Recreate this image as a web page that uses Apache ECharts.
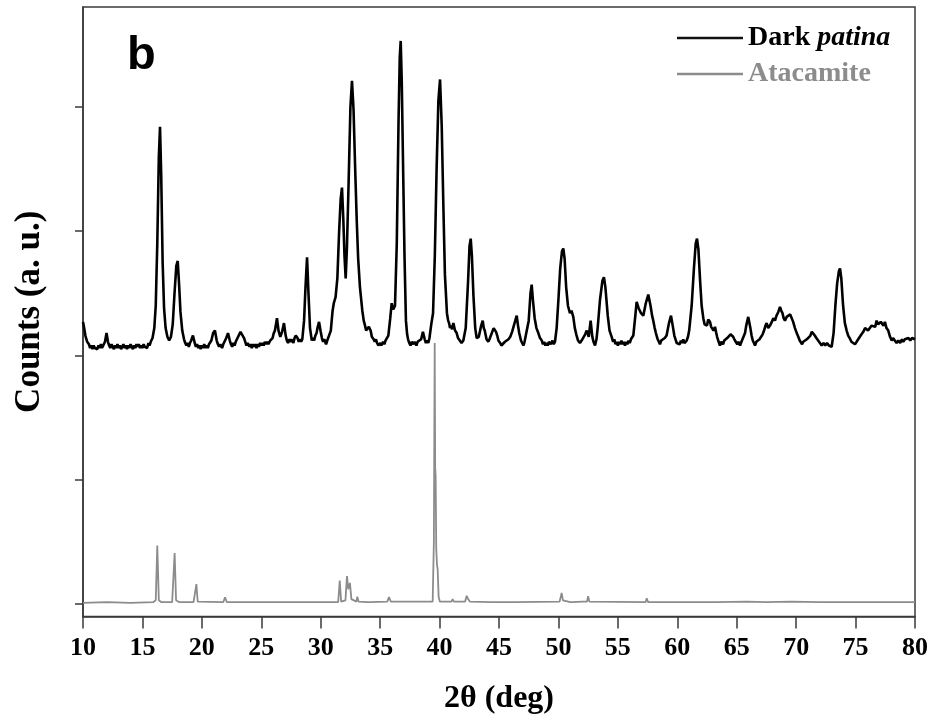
<!DOCTYPE html>
<html>
<head>
<meta charset="utf-8">
<script src="https://cdn.jsdelivr.net/npm/echarts@6/dist/echarts.min.js"></script>
<style>html,body{margin:0;padding:0;background:#fff;}#chart{width:935px;height:724px;}</style>
</head>
<body>
<div id="chart"></div>
<script>
// 2θ (deg), counts (a. u.)
const darkPatina = [[10.0,227],[10.1,222],[10.2,216],[10.35,211],[10.5,209],[10.6,206],[10.7,208],[10.8,205],[10.9,208],[11.0,206],[11.1,207],[11.2,205],[11.3,208],[11.4,206],[11.5,209],[11.6,206],[11.7,208],[11.85,211],[11.98,218],[12.1,211],[12.2,208],[12.3,206],[12.4,209],[12.5,207],[12.6,205],[12.7,208],[12.8,206],[12.9,209],[13.0,206],[13.1,208],[13.2,205],[13.3,207],[13.4,209],[13.5,206],[13.6,208],[13.7,205],[13.8,208],[13.9,206],[14.0,209],[14.1,207],[14.2,205],[14.3,208],[14.4,206],[14.5,209],[14.6,207],[14.7,209],[14.8,206],[14.9,208],[15.0,206],[15.1,209],[15.2,207],[15.3,208],[15.4,206],[15.5,210],[15.6,208],[15.7,211],[15.85,214],[16.0,222],[16.12,240],[16.25,290],[16.38,360],[16.48,384],[16.58,345],[16.7,275],[16.82,238],[16.95,222],[17.1,215],[17.25,212],[17.4,215],[17.55,225],[17.7,250],[17.85,272],[17.97,276],[18.08,258],[18.2,235],[18.35,220],[18.5,213],[18.6,210],[18.7,208],[18.8,210],[18.9,207],[19.0,210],[19.1,212],[19.25,216],[19.4,210],[19.5,207],[19.6,209],[19.7,206],[19.8,208],[19.9,205],[20.0,208],[20.1,206],[20.2,209],[20.3,206],[20.4,208],[20.5,206],[20.6,209],[20.7,208],[20.8,212],[20.95,218],[21.1,220],[21.25,212],[21.35,209],[21.45,207],[21.55,209],[21.7,206],[21.8,209],[21.9,210],[22.05,214],[22.2,218],[22.35,212],[22.45,209],[22.55,207],[22.65,210],[22.75,208],[22.85,211],[22.95,212],[23.05,215],[23.15,216],[23.25,219],[23.38,220],[23.55,214],[23.65,211],[23.75,208],[23.85,210],[24.0,207],[24.1,209],[24.2,206],[24.3,209],[24.4,207],[24.5,209],[24.6,206],[24.7,209],[24.8,207],[24.9,210],[25.0,208],[25.1,210],[25.2,208],[25.3,211],[25.4,209],[25.5,211],[25.6,209],[25.75,212],[25.95,214],[26.05,218],[26.15,220],[26.32,230],[26.45,220],[26.6,215],[26.75,219],[26.91,226],[27.05,216],[27.15,212],[27.25,210],[27.35,213],[27.5,211],[27.6,213],[27.7,210],[27.8,214],[27.9,216],[28.05,214],[28.15,211],[28.25,213],[28.35,211],[28.45,213],[28.6,228],[28.72,255],[28.85,279],[28.97,250],[29.1,222],[29.25,212],[29.35,214],[29.45,212],[29.55,216],[29.65,218],[29.75,223],[29.86,227],[30.0,219],[30.1,214],[30.2,211],[30.3,213],[30.45,209],[30.55,212],[30.7,212],[30.85,220],[31.0,236],[31.1,242],[31.25,247],[31.4,262],[31.55,300],[31.68,326],[31.79,335],[31.9,310],[32.0,280],[32.1,262],[32.2,285],[32.35,340],[32.5,400],[32.63,421],[32.76,398],[32.9,350],[33.03,309],[33.15,278],[33.3,255],[33.5,236],[33.62,228],[33.73,224],[33.82,220],[33.9,219],[34.05,223],[34.2,220],[34.3,215],[34.45,213],[34.55,211],[34.65,213],[34.74,210],[34.85,208],[35.0,210],[35.1,208],[35.25,211],[35.35,209],[35.45,212],[35.55,213],[35.69,216],[35.85,230],[35.97,242],[36.1,237],[36.25,240],[36.4,290],[36.55,390],[36.65,440],[36.73,453],[36.82,420],[36.95,340],[37.05,280],[37.17,228],[37.27,217],[37.35,213],[37.45,210],[37.55,208],[37.65,211],[37.8,209],[37.9,211],[38.05,208],[38.15,211],[38.3,210],[38.45,213],[38.6,219],[38.75,213],[38.85,210],[38.95,212],[39.05,210],[39.15,214],[39.3,225],[39.45,234],[39.6,280],[39.75,350],[39.9,405],[40.04,422],[40.18,385],[40.32,320],[40.45,265],[40.62,234],[40.72,228],[40.8,226],[40.88,222],[40.95,224],[41.05,221],[41.16,226],[41.3,220],[41.44,218],[41.55,214],[41.7,213],[41.85,210],[42.0,212],[42.2,222],[42.4,260],[42.52,288],[42.62,294],[42.72,280],[42.85,248],[43.0,222],[43.12,214],[43.3,215],[43.5,224],[43.63,228],[43.72,222],[43.8,220],[43.95,213],[44.1,211],[44.2,213],[44.35,214],[44.55,222],[44.66,223],[44.75,219],[44.85,216],[44.95,212],[45.1,210],[45.2,208],[45.36,208],[45.5,211],[45.65,210],[45.8,213],[45.95,215],[46.1,219],[46.25,224],[46.49,232],[46.6,224],[46.7,218],[46.85,212],[47.05,208],[47.15,211],[47.3,212],[47.5,228],[47.65,250],[47.75,257],[47.85,245],[48.0,230],[48.15,222],[48.31,218],[48.45,214],[48.6,212],[48.7,209],[48.8,211],[48.9,208],[49.01,210],[49.1,208],[49.2,211],[49.35,209],[49.5,212],[49.6,209],[49.71,211],[49.85,222],[50.0,245],[50.15,270],[50.3,284],[50.41,286],[50.52,278],[50.65,255],[50.8,240],[50.97,234],[51.1,236],[51.25,231],[51.38,222],[51.5,217],[51.65,212],[51.81,210],[51.95,212],[52.1,213],[52.25,217],[52.38,220],[52.55,215],[52.71,228],[52.85,215],[52.95,211],[53.08,208],[53.2,213],[53.3,222],[53.5,245],[53.7,260],[53.83,263],[53.95,255],[54.15,232],[54.3,220],[54.48,215],[54.6,211],[54.7,213],[54.8,209],[54.9,211],[55.0,208],[55.1,211],[55.2,209],[55.3,212],[55.4,209],[55.5,211],[55.6,208],[55.7,211],[55.8,209],[55.9,212],[56.0,210],[56.1,213],[56.2,212],[56.3,216],[56.45,230],[56.58,243],[56.75,238],[56.85,236],[56.95,234],[57.05,235],[57.14,232],[57.35,242],[57.56,249],[57.75,240],[57.88,232],[57.98,228],[58.1,222],[58.2,218],[58.35,213],[58.45,211],[58.54,209],[58.65,212],[58.8,211],[58.95,214],[59.1,216],[59.3,226],[59.47,232],[59.65,222],[59.75,216],[59.85,213],[59.95,210],[60.08,211],[60.2,209],[60.3,212],[60.4,210],[60.5,213],[60.6,210],[60.79,212],[60.9,215],[61.0,220],[61.21,240],[61.4,270],[61.55,290],[61.66,294],[61.78,285],[61.92,260],[62.05,240],[62.19,230],[62.3,225],[62.4,226],[62.5,224],[62.6,229],[62.75,227],[62.85,223],[62.95,222],[63.05,220],[63.17,223],[63.28,218],[63.35,215],[63.48,211],[63.59,208],[63.7,211],[63.85,209],[63.95,212],[64.1,211],[64.2,214],[64.35,215],[64.48,217],[64.58,218],[64.7,215],[64.8,213],[64.92,211],[65.05,209],[65.15,211],[65.28,208],[65.4,211],[65.55,212],[65.7,218],[65.8,224],[65.97,231],[66.15,222],[66.25,216],[66.35,212],[66.45,210],[66.54,208],[66.65,211],[66.8,210],[66.92,213],[67.05,214],[67.18,217],[67.3,220],[67.42,224],[67.52,226],[67.65,222],[67.8,224],[67.95,227],[68.08,230],[68.22,228],[68.35,232],[68.5,235],[68.64,239],[68.75,236],[68.85,234],[68.95,230],[69.06,228],[69.2,231],[69.35,230],[69.5,233],[69.62,232],[69.75,227],[69.9,222],[70.05,218],[70.18,215],[70.3,212],[70.4,211],[70.5,209],[70.6,211],[70.75,210],[70.9,213],[71.05,214],[71.2,216],[71.32,219],[71.44,218],[71.57,216],[71.7,214],[71.85,212],[72.0,211],[72.15,208],[72.3,210],[72.45,208],[72.6,210],[72.75,208],[72.88,209],[72.99,207],[73.15,218],[73.3,240],[73.45,258],[73.6,268],[73.69,270],[73.8,262],[73.95,240],[74.1,226],[74.25,220],[74.38,216],[74.5,214],[74.65,211],[74.8,212],[74.95,209],[75.09,211],[75.22,213],[75.35,214],[75.5,217],[75.65,219],[75.8,222],[75.93,223],[76.05,220],[76.2,222],[76.35,224],[76.5,225],[76.65,223],[76.77,228],[76.9,225],[77.0,224],[77.12,227],[77.25,226],[77.35,224],[77.47,227],[77.6,222],[77.75,220],[77.9,215],[78.04,212],[78.15,214],[78.3,213],[78.45,210],[78.6,212],[78.75,210],[78.9,213],[79.01,211],[79.15,213],[79.3,212],[79.45,214],[79.6,212],[79.75,214],[79.86,215],[80.0,213]];

const atacamite = [[10,1],[12,1.5],[14,1],[15.9,1.5],[16.12,3],[16.25,47],[16.38,3],[16.6,1.5],[17.5,1.5],[17.6,3],[17.71,41],[17.83,3],[18.1,1.5],[19.3,1.5],[19.44,3],[19.54,16],[19.65,2],[21.8,1.5],[21.95,5.5],[22.1,1.5],[25.9,1.5],[26.0,2.5],[26.1,1.5],[27.75,1.5],[27.84,3],[27.95,1.5],[29.6,1.5],[29.7,2.5],[29.8,1.5],[31.47,1.5],[31.6,19],[31.72,2],[32.08,3],[32.21,22.5],[32.32,12],[32.46,17],[32.58,4],[33.0,2],[33.08,6],[33.18,2],[33.9,1.5],[34.0,2.5],[34.1,1.5],[35.6,2],[35.74,5.6],[35.9,2],[39.42,2],[39.52,50],[39.59,210],[39.63,110],[39.67,103],[39.72,45],[39.78,32],[39.84,28],[39.92,6],[40.02,2],[41.0,2],[41.1,4],[41.2,2],[42.15,2],[42.28,6.7],[42.4,4],[42.55,2],[44.35,1.5],[44.46,2.5],[44.6,1.5],[46.2,1.5],[46.3,2.5],[46.4,1.5],[50.1,2],[50.2,6],[50.27,9],[50.38,3],[50.5,1.5],[51.0,1.5],[51.1,2.5],[51.2,1.5],[52.0,2],[52.1,3],[52.4,2],[52.5,6.3],[52.6,2],[57.33,1.5],[57.43,4.6],[57.55,1.5],[59.35,1.5],[59.45,2.5],[59.6,1.5],[63.08,1.5],[63.18,3],[63.3,1.5],[65.86,2],[67.5,1.5],[69.6,2],[72,1.5],[76,1.5],[80,1.5]];

const xMin = 10, xMax = 80, xStep = 5;
const yTickValues = [0, 100, 200, 300, 400];
const seriesNames = ['Dark patina', 'Atacamite'];

const serif = '"Liberation Serif", "Times New Roman", serif';
const chart = echarts.init(document.getElementById('chart'), null, {renderer: 'canvas'});
chart.setOption({
  animation: false,
  backgroundColor: '#fff',
  grid: {left: 83, top: 7, width: 832, height: 609.5, show: true, borderColor: '#3a3a3a', borderWidth: 1.5, outerBoundsMode: 'none', containLabel: false},
  legend: {
    orient: 'vertical', left: 672, top: 18, itemWidth: 66, itemHeight: 2.5, itemGap: 6,
    icon: 'rect',
    data: [
      {name: seriesNames[0], textStyle: {color: '#000'}, itemStyle: {color: '#111'}},
      {name: seriesNames[1], textStyle: {color: '#8c8c8c'}, itemStyle: {color: '#8c8c8c'}}
    ],
    formatter: function (n) { return n === 'Dark patina' ? 'Dark {i|patina}' : n; },
    textStyle: {fontFamily: serif, fontWeight: 'bold', fontSize: 28, lineHeight: 30,
      rich: {i: {fontFamily: serif, fontWeight: 'bold', fontStyle: 'italic', fontSize: 28, lineHeight: 30, color: '#000'}}}
  },
  xAxis: {
    type: 'value', min: xMin, max: xMax, interval: xStep,
    name: '2θ (deg)', nameLocation: 'middle', nameGap: 66,
    nameTextStyle: {fontFamily: serif, fontWeight: 'bold', fontSize: 32, color: '#000'},
    axisLine: {show: true, onZero: false, lineStyle: {color: '#3a3a3a', width: 1.5}},
    axisTick: {show: true, inside: false, length: 12, lineStyle: {color: '#3a3a3a', width: 1.5}},
    axisLabel: {margin: 19, fontFamily: serif, fontWeight: 'bold', fontSize: 26, color: '#000'},
    splitLine: {show: false}
  },
  yAxis: {
    type: 'value', min: -10, max: 480.3,
    name: 'Counts (a. u.)', nameLocation: 'middle', nameGap: 36,
    nameTextStyle: {fontFamily: serif, fontWeight: 'bold', fontSize: 35, color: '#000'},
    axisLine: {show: true, onZero: false, lineStyle: {color: '#3a3a3a', width: 1.5}},
    axisTick: {show: true, inside: false, length: 8, customValues: yTickValues, lineStyle: {color: '#3a3a3a', width: 1.5}},
    axisLabel: {show: false},
    splitLine: {show: false}
  },
  graphic: [{
    type: 'text', left: 127, top: 33, z: 100,
    style: {text: 'b', font: 'bold 47px "Liberation Sans", Arial, sans-serif', fill: '#000'}
  }],
  series: [
    {name: seriesNames[1], type: 'line', data: atacamite, symbol: 'none', showSymbol: false, z: 2,
      lineStyle: {color: '#8c8c8c', width: 1.8}, itemStyle: {color: '#8c8c8c'}},
    {name: seriesNames[0], type: 'line', data: darkPatina, symbol: 'none', showSymbol: false, z: 3,
      lineStyle: {color: '#000', width: 2.6}, itemStyle: {color: '#000'}}
  ]
});
</script>
</body>
</html>
